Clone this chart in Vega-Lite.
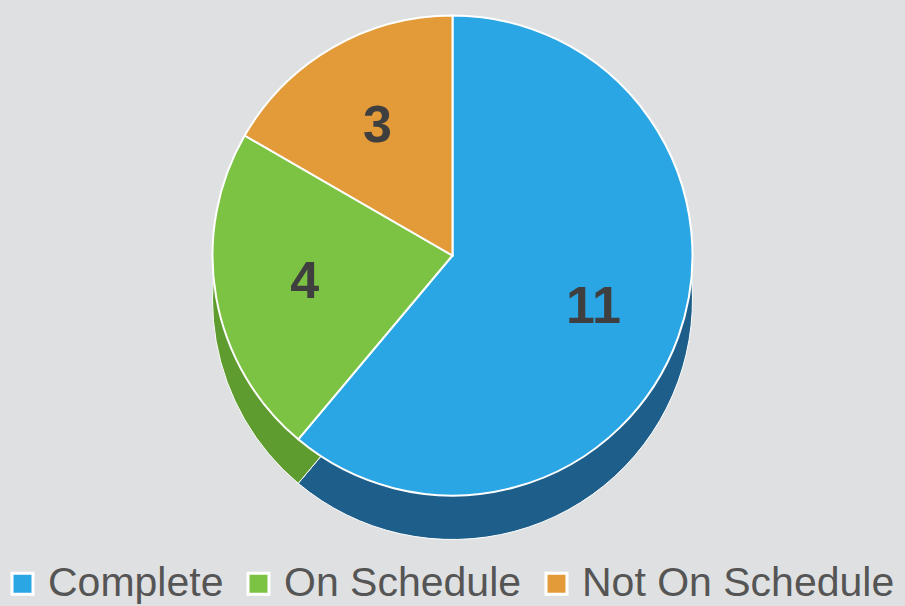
{
  "$schema": "https://vega.github.io/schema/vega-lite/v6.json",
  "width": 905,
  "height": 606,
  "autosize": {"type": "fit", "contains": "padding"},
  "padding": 0,
  "background": "#dfe0e2",
  "data": {"values": [
    {"status": "Complete", "count": 11, "idx": 1},
    {"status": "On Schedule", "count": 4, "idx": 2},
    {"status": "Not On Schedule", "count": 3, "idx": 3}
  ]},
  "encoding": {
    "theta": {"field": "count", "type": "quantitative", "stack": true},
    "order": {"field": "idx", "type": "ordinal"}
  },
  "layer": [
    {
      "mark": {"type": "arc", "radius": 240, "yOffset": 22, "stroke": "#ffffff", "strokeWidth": 1},
      "encoding": {
        "color": {"field": "status", "type": "nominal", "legend": null,
          "scale": {"domain": ["Complete", "On Schedule", "Not On Schedule"], "range": ["#1d5f8a", "#5f9c2f", "#b97a2c"]}}
      }
    },
    {
      "mark": {"type": "arc", "radius": 240, "yOffset": -22, "stroke": "#ffffff", "strokeWidth": 2},
      "encoding": {
        "color": {"field": "status", "type": "nominal", "title": null,
          "scale": {"domain": ["Complete", "On Schedule", "Not On Schedule"], "range": ["#2aa6e4", "#7cc243", "#e39b3a"]},
          "legend": {"orient": "bottom", "direction": "horizontal", "symbolType": "square", "symbolSize": 440,
            "symbolStrokeColor": "#ffffff", "symbolStrokeWidth": 3, "symbolOpacity": 1,
            "labelFontSize": 41, "labelFont": "Liberation Sans", "labelColor": "#555555",
            "labelLimit": 400, "columnPadding": 14, "labelOffset": 5, "offset": 6, "padding": 2}}
      }
    },
    {
      "mark": {"type": "text", "radius": 150, "yOffset": -22, "font": "Liberation Sans", "fontSize": 52, "fontWeight": "bold", "fill": "#3f3f3f"},
      "encoding": {"text": {"field": "count", "type": "quantitative"}}
    }
  ],
  "resolve": {"scale": {"color": "independent"}},
  "config": {"view": {"stroke": null}}
}
